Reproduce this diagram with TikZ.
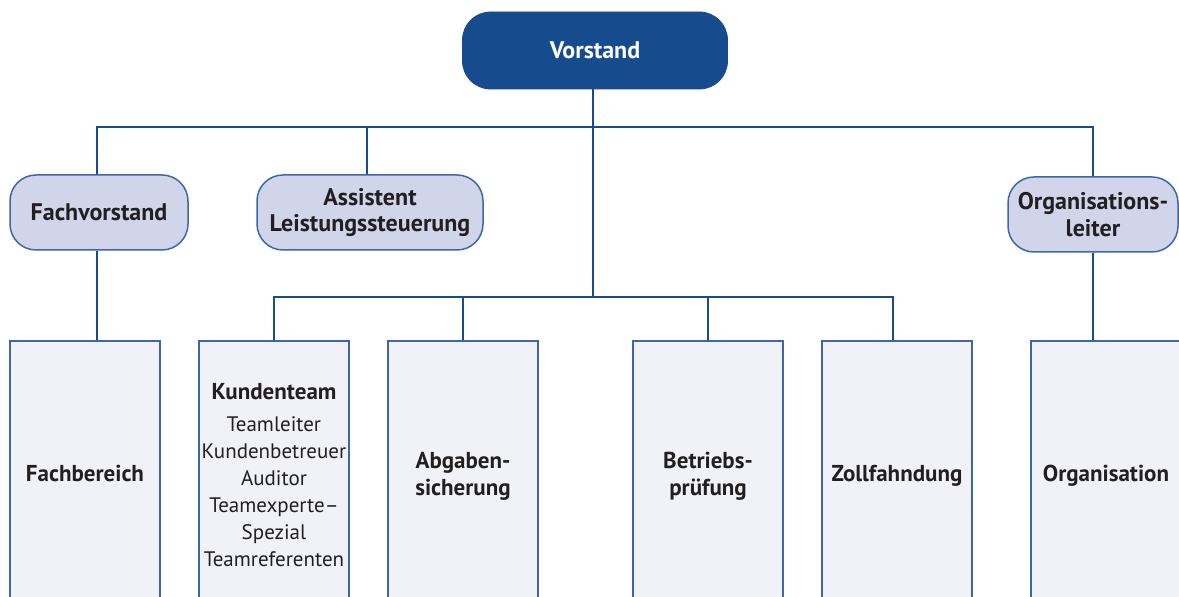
\documentclass[tikz,border=0pt]{standalone}
\usepackage{fontspec}
\setmainfont{PT Sans}
\usepackage{xcolor}
\usepackage{tikz}

\definecolor{vorstandblau}{HTML}{164B8E}
\definecolor{randblau}{HTML}{3D67A5}
\definecolor{lavendel}{HTML}{D0D5EA}
\definecolor{boxgrau}{HTML}{F1F2F8}
\definecolor{textgrau}{HTML}{231F20}

\tikzset{
	chef/.style={rounded corners=14pt,fill=vorstandblau,draw=vorstandblau,text=white,
		minimum width=132.5pt,minimum height=38.5pt,font=\bfseries\fontsize{12}{14}\selectfont},
	stab/.style={rounded corners=13pt,fill=lavendel,draw=randblau,line width=0.75pt,text=textgrau,
		minimum height=37.5pt,align=center,inner sep=0pt,font=\bfseries\fontsize{12}{13.3}\selectfont},
	abteilung/.style={fill=boxgrau,draw=randblau,line width=0.75pt,text=textgrau,
		text width=75pt,minimum height=135pt,align=center,inner sep=0pt,font=\bfseries\fontsize{11.5}{13.5}\selectfont},
	linie/.style={draw=vorstandblau,line width=0.55pt}
}

\begin{document}
\begin{tikzpicture}[x=0.5pt,y=-0.5pt]
		\useasboundingbox (0,0) rectangle (1179,597);
		\clip (0,0) rectangle (1179,597);

		\node[chef] (vorstand) at (595,50.5) {Vorstand};

		\node[stab,minimum width=89pt] (fachvorstand) at (99,212.5) {Fachvorstand};
		\node[stab,minimum width=113pt] (assistent) at (370,212.5) {Assistent\\Leistungssteuerung};
		\node[stab,minimum width=85pt] (orgleiter) at (1093,214.5) {Organisations-\\leiter};

		\node[abteilung,minimum height=132pt] (fachbereich) at (85,473) {Fachbereich};
		\node[abteilung,minimum height=138pt] (kundenteam) at (274,479) {Kundenteam\\[5pt]
			{\mdseries\fontsize{10.5}{13.5}\selectfont\begin{tabular}{@{}c@{}}Teamleiter\\Kundenbetreuer\\Auditor\\Teamexperte--\\Spezial\\Teamreferenten\end{tabular}}};
		\node[abteilung] (abgaben) at (463,476) {Abgaben-\\sicherung};
		\node[abteilung] (betrieb) at (708,476) {Betriebs-\\prüfung};
		\node[abteilung] (zoll) at (897,476) {Zollfahndung};
		\node[abteilung] (organisation) at (1106,476) {Organisation};

		\coordinate (obenbus) at (593,127);
		\coordinate (untenbus) at (593,297);

		\draw[linie] (fachvorstand.north -| 97,0) |- (obenbus) -| (orgleiter.north);
		\draw[linie] (assistent.north -| 367,0) |- (obenbus);
		\draw[linie] (vorstand.south -| untenbus) -- (untenbus);
		\draw[linie] (kundenteam.north) |- (untenbus) -| (zoll.north -| 893,0);
		\draw[linie] (abgaben.north) |- (untenbus);
		\draw[linie] (betrieb.north) |- (untenbus);
		\draw[linie] (fachvorstand.south -| 97,0) -- (fachbereich.north -| 97,0);
		\draw[linie] (orgleiter.south) -- (orgleiter.south |- organisation.north);

\end{tikzpicture}
\end{document}
